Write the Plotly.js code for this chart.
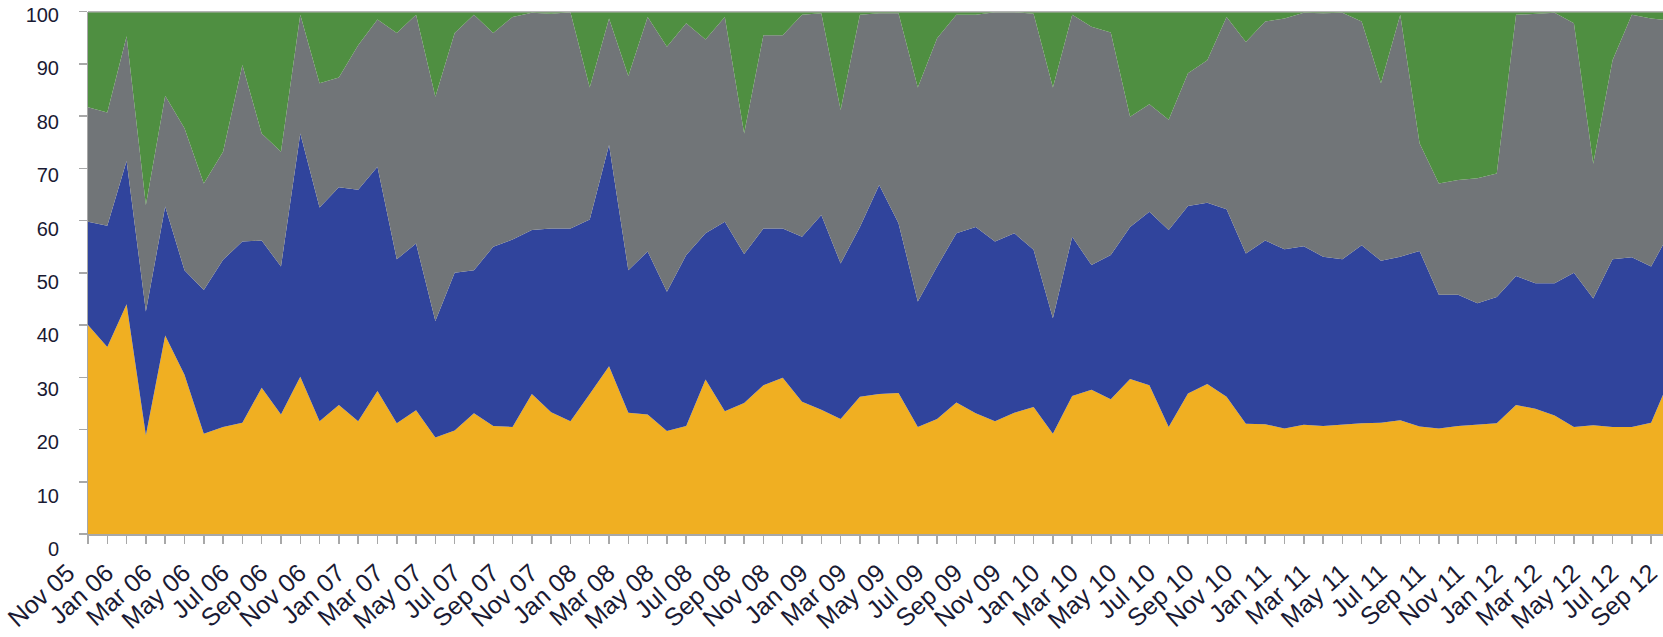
<!DOCTYPE html>
<html>
<head>
<meta charset="utf-8">
<script src="https://cdn.plot.ly/plotly-3.0.1.min.js"></script>
<style>
  html, body { margin: 0; padding: 0; background: #ffffff; overflow: hidden; }
  #chart { width: 1682px; height: 637px; }
</style>
</head>
<body>
<div id="chart"></div>
<script>
// Months (categories), Nov 05 .. Sep 12
const months = [
  "Nov 05","Dec 05",
  "Jan 06","Feb 06","Mar 06","Apr 06","May 06","Jun 06","Jul 06","Aug 06","Sep 06","Oct 06","Nov 06","Dec 06",
  "Jan 07","Feb 07","Mar 07","Apr 07","May 07","Jun 07","Jul 07","Aug 07","Sep 07","Oct 07","Nov 07","Dec 07",
  "Jan 08","Feb 08","Mar 08","Apr 08","May 08","Jun 08","Jul 08","Aug 08","Sep 08","Oct 08","Nov 08","Dec 08",
  "Jan 09","Feb 09","Mar 09","Apr 09","May 09","Jun 09","Jul 09","Aug 09","Sep 09","Oct 09","Nov 09","Dec 09",
  "Jan 10","Feb 10","Mar 10","Apr 10","May 10","Jun 10","Jul 10","Aug 10","Sep 10","Oct 10","Nov 10","Dec 10",
  "Jan 11","Feb 11","Mar 11","Apr 11","May 11","Jun 11","Jul 11","Aug 11","Sep 11","Oct 11","Nov 11","Dec 11",
  "Jan 12","Feb 12","Mar 12","Apr 12","May 12","Jun 12","Jul 12","Aug 12","Sep 12"
];

// Shares (%) of each series, bottom to top
const yellowSeries = [
  40.0,35.8,44.0,18.9,38.0,30.5,19.2,20.5,21.3,28.0,
  22.9,30.1,21.6,24.7,21.6,27.4,21.2,23.7,18.5,19.8,
  23.1,20.7,20.5,26.8,23.3,21.6,26.8,32.1,23.2,22.9,
  19.7,20.7,29.6,23.5,25.1,28.5,29.9,25.3,23.8,22.0,
  26.3,26.8,27.0,20.5,22.0,25.2,23.1,21.6,23.2,24.3,
  19.2,26.4,27.6,25.8,29.7,28.5,20.5,26.9,28.7,26.3,
  21.1,21.0,20.2,20.9,20.7,21.0,21.2,21.3,21.8,20.6,
  20.2,20.7,20.9,21.2,24.7,24.0,22.7,20.5,20.8,20.5,
  20.5,21.3,30.0
];
const blueSeries = [
  19.8,23.2,27.4,23.7,24.7,20.0,27.5,32.0,34.7,28.2,
  28.3,46.6,40.9,41.7,44.3,42.9,31.4,31.9,22.3,30.2,
  27.4,34.3,35.9,31.4,35.2,36.9,33.4,42.4,27.3,31.2,
  26.7,32.7,28.0,36.3,28.5,30.0,28.6,31.6,37.3,29.8,
  32.5,40.0,32.5,24.0,29.2,32.4,35.7,34.4,34.4,30.1,
  22.1,30.5,23.9,27.6,29.1,33.2,37.7,35.9,34.7,35.9,
  32.6,35.2,34.3,34.2,32.4,31.6,34.1,31.0,31.3,33.6,
  25.6,25.1,23.3,24.2,24.7,24.0,25.3,29.5,24.3,32.1,
  32.5,29.9,28.0
];
const graySeries = [
  21.9,21.7,23.9,20.4,21.2,27.2,20.4,20.7,33.8,20.5,
  22.0,22.7,23.8,21.0,27.7,28.2,43.3,43.8,42.9,45.9,
  48.9,40.9,42.6,41.6,41.1,41.4,25.3,24.2,37.2,44.9,
  46.9,44.4,37.1,39.2,23.1,37.0,37.0,42.5,38.6,29.4,
  40.6,32.9,40.2,41.0,43.7,41.8,40.6,43.9,42.3,45.2,
  44.2,42.5,45.6,42.6,21.1,20.6,21.1,25.4,27.3,36.8,
  40.5,41.9,44.2,44.7,46.6,47.2,42.8,34.0,46.3,20.6,
  21.3,22.0,23.9,23.6,50.0,51.6,51.8,47.8,25.8,38.1,
  46.4,47.5,40.3
];
const greenSeries = [
  18.3,19.3,4.7,37.0,16.1,22.3,32.9,26.8,10.2,23.3,
  26.8,0.6,13.7,12.6,6.4,1.5,4.1,0.6,16.3,4.1,
  0.6,4.1,1.0,0.2,0.4,0.1,14.5,1.3,12.3,1.0,
  6.7,2.2,5.3,1.0,23.3,4.5,4.5,0.6,0.3,18.8,
  0.6,0.3,0.3,14.5,5.1,0.6,0.6,0.1,0.1,0.4,
  14.5,0.6,2.9,4.0,20.1,17.7,20.7,11.8,9.3,1.0,
  5.8,1.9,1.3,0.2,0.3,0.2,1.9,13.7,0.6,25.2,
  32.9,32.2,31.9,31.0,0.6,0.4,0.2,2.2,29.1,9.3,
  0.6,1.3,1.7
];

const yTicks = [0,10,20,30,40,50,60,70,80,90,100];

const colors = {
  yellow: "#F0AF22",
  blue:   "#30449C",
  gray:   "#717578",
  green:  "#4F8F41"
};

function areaTrace(name, values, color) {
  return {
    type: "scatter",
    mode: "lines",
    name: name,
    x: months,
    y: values,
    stackgroup: "one",
    groupnorm: "percent",
    line: { width: 0, color: color },
    fillcolor: color,
    hoverinfo: "skip"
  };
}

const data = [
  areaTrace("Series 1", yellowSeries, colors.yellow),
  areaTrace("Series 2", blueSeries, colors.blue),
  areaTrace("Series 3", graySeries, colors.gray),
  areaTrace("Series 4", greenSeries, colors.green),
  // empty helper trace so the tick-label axis (y2) gets drawn
  { type: "scatter", mode: "lines", x: [], y: [], yaxis: "y2", xaxis: "x", showlegend: false, hoverinfo: "skip" }
];

const tickText = months.map((m, i) => (i % 2 === 0 ? m : ""));
const fontFamily = "Liberation Sans, Arial, sans-serif";

// paper: 0..549 px tall (margin.t = 0, margin.b = 88)
const layout = {
  width: 1682,
  height: 637,
  margin: { l: 88, r: 0, t: 0, b: 88, pad: 0 },
  paper_bgcolor: "#ffffff",
  plot_bgcolor: "rgba(0,0,0,0)",
  showlegend: false,
  hovermode: false,
  xaxis: {
    type: "category",
    range: [0, 82.6],
    autorange: false,
    anchor: "y",
    tickmode: "array",
    tickvals: months,
    ticktext: tickText,
    tickangle: -42,
    ticks: "outside",
    ticklen: 8,
    tickwidth: 1.5,
    tickcolor: "#a8a8a8",
    showline: true,
    linecolor: "#a8a8a8",
    linewidth: 1.5,
    showgrid: false,
    zeroline: false,
    tickfont: { family: fontFamily, size: 25, color: "#1a1a33" },
    ticklabelstandoff: 5,
    ticklabelshift: -20,
    fixedrange: true
  },
  yaxis: {
    domain: [0.02732, 0.97869],
    range: [0, 100],
    autorange: false,
    anchor: "x",
    tickmode: "array",
    tickvals: yTicks,
    showticklabels: false,
    ticks: "outside",
    ticklen: 8,
    tickwidth: 1.5,
    tickcolor: "#a8a8a8",
    showline: true,
    linecolor: "#a8a8a8",
    linewidth: 1.5,
    showgrid: false,
    zeroline: false,
    fixedrange: true
  },
  // axis that only carries the value labels (they sit slightly offset from the ticks, as in the original)
  yaxis2: {
    domain: [0, 0.97268],
    range: [0, 100],
    autorange: false,
    anchor: "x",
    side: "left",
    tickmode: "array",
    tickvals: yTicks,
    ticktext: yTicks.map(String),
    ticks: "",
    showline: false,
    showgrid: false,
    zeroline: false,
    tickfont: { family: fontFamily, size: 20, color: "#1a1a33" },
    ticklabelstandoff: 28,
    fixedrange: true
  },
  shapes: [
    {
      type: "line", xref: "x domain", yref: "y domain",
      x0: 0, x1: 1, y0: 1, y1: 1,
      line: { color: "#b4b4b4", width: 1.5 },
      layer: "above"
    }
  ]
};

Plotly.newPlot("chart", data, layout, { displayModeBar: false, staticPlot: true });
</script>
</body>
</html>
